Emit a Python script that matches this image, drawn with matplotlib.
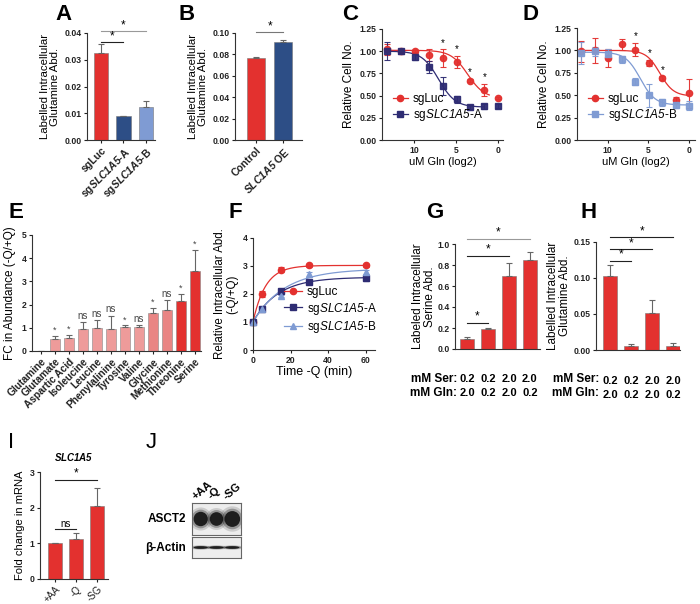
import numpy as np
import matplotlib
matplotlib.use("Agg")
import matplotlib.pyplot as plt
from matplotlib.patches import Ellipse
from matplotlib.lines import Line2D

plt.rcParams['font.family'] = ['Liberation Sans', 'DejaVu Sans']
plt.rcParams['font.weight'] = 'bold'
plt.rcParams['font.size'] = 6
plt.rcParams['mathtext.fontset'] = 'custom'
plt.rcParams['mathtext.rm'] = 'Liberation Sans:italic:normal'
plt.rcParams['mathtext.it'] = 'Liberation Sans:italic:normal'
plt.rcParams['mathtext.bf'] = 'Liberation Sans:italic:bold'
plt.rcParams['mathtext.bfit'] = 'Liberation Sans:italic:bold'
plt.rcParams['axes.linewidth'] = 0.8
plt.rcParams['axes.edgecolor'] = '#333333'

RED = '#E3312F'
PINK = '#EE9B9A'
PINK2 = '#E98584'
NAVY = '#2E2C73'
DBLUE = '#2D4E86'
LBLUE = '#7F9BD3'
ERR = '#666666'

#  A: labelled glutamine, knockouts
a_labels = ['sgLuc', 'sg$\\mathbfit{SLC1A5}$-A', 'sg$\\mathbfit{SLC1A5}$-B']
a_vals = [0.0325, 0.0088, 0.0125]
a_err = [0.0035, 0.0002, 0.0020]

#  B: labelled glutamine, overexpression
b_labels = ['Control', '$\\mathbfit{SLC1A5}$ OE']
b_vals = [0.0765, 0.0915]
b_err = [0.0012, 0.0022]

#  C, D: dose response
gln_log2 = [13.3, 11.6, 9.9, 8.3, 6.6, 4.9, 3.3, 1.6, 0]
c_luc = [1.02, 1.00, 1.00, 0.96, 0.92, 0.88, 0.67, 0.56, 0.47]
c_luc_err = [0.06, 0.03, 0.01, 0.07, 0.10, 0.07, 0.02, 0.07, 0.01]
c_ka = [1.00, 1.00, 0.94, 0.82, 0.61, 0.46, 0.37, 0.38, 0.38]
c_ka_err = [0.10, 0.03, 0.04, 0.07, 0.10, 0.04, 0.02, 0.03, 0.02]
d_luc = [0.99, 1.00, 0.92, 1.07, 1.01, 0.86, 0.69, 0.45, 0.52]
d_luc_err = [0.12, 0.14, 0.10, 0.06, 0.07, 0.03, 0.02, 0.03, 0.16]
d_kb = [0.97, 0.99, 0.96, 0.90, 0.65, 0.50, 0.42, 0.39, 0.38]
d_kb_err = [0.12, 0.05, 0.06, 0.04, 0.04, 0.13, 0.04, 0.03, 0.05]
c_stars = [6.6, 4.9, 3.3, 1.6]
d_stars = [6.6, 4.9, 3.3]
#  fitted curves: top, bottom, midpoint, slope, lowest x drawn
c_luc_fit = [1.01, 0.47, 3.6, 1.0, 1.0]
c_ka_fit = [1.00, 0.37, 7.1, 1.0, 1.6]
d_luc_fit = [1.00, 0.49, 3.6, 1.2, 0.0]
d_kb_fit = [0.98, 0.39, 6.0, 1.1, 0.0]

#  E: amino acid fold change
e_names = ['Glutamine', 'Glutamate', 'Aspartic Acid', 'Isoleucine', 'Leucine',
           'Phenylalinine', 'Tyrosine', 'Valine', 'Glycine', 'Methionine',
           'Threonine', 'Serine']
e_vals = [0.02, 0.53, 0.55, 0.93, 0.98, 0.93, 1.05, 1.05, 1.62, 1.75, 2.15, 3.45]
e_err = [0.0, 0.12, 0.13, 0.30, 0.37, 0.60, 0.05, 0.05, 0.25, 0.45, 0.32, 0.90]
e_sig = ['', '*', '*', 'ns', 'ns', 'ns', '*', 'ns', '*', 'ns', '*', '*']
e_cols = [PINK]*8 + [PINK2]*2 + [RED]*2

#  F: time course
f_time = [0, 5, 15, 30, 60]
f_luc = [1.0, 2.0, 2.87, 3.02, 3.02]
f_luc_err = [0.03, 0.12, 0.10, 0.06, 0.04]
f_ka = [1.0, 1.47, 2.10, 2.42, 2.57]
f_ka_err = [0.03, 0.05, 0.05, 0.05, 0.12]
f_kb = [1.0, 1.45, 1.93, 2.70, 2.78]
f_kb_err = [0.03, 0.04, 0.05, 0.08, 0.08]
#  association fits: start, plateau, rate
f_luc_fit = [1.0, 3.02, 0.15]
f_ka_fit = [1.0, 2.60, 0.075]
f_kb_fit = [1.0, 2.90, 0.06]

#  G, H: serine / glutamine labelling
gh_ser = ['0.2', '0.2', '2.0', '2.0']
gh_gln = ['2.0', '0.2', '2.0', '0.2']
g_vals = [0.10, 0.19, 0.70, 0.85]
g_err = [0.01, 0.01, 0.12, 0.07]
h_vals = [0.103, 0.006, 0.051, 0.006]
h_err = [0.015, 0.002, 0.018, 0.004]

#  I: qPCR
i_labels = ['+AA', '-Q', '-SG']
i_vals = [1.0, 1.13, 2.05]
i_err = [0.0, 0.15, 0.50]

#  J: blot
j_lanes = ['+AA', '-Q', '-SG']
j_asct2 = [1.0, 0.95, 1.1]
j_actin = [1.0, 1.0, 1.0]

W, H = 700, 604
fig = plt.figure(figsize=(7, 6.04), dpi=100)


def px_axes(x0, y0, x1, y1):
    return fig.add_axes([x0/W, 1 - y1/H, (x1 - x0)/W, (y1 - y0)/H])


def style(ax):
    ax.spines['top'].set_visible(False)
    ax.spines['right'].set_visible(False)
    ax.tick_params(length=2.5, width=0.8, labelsize=6.2, pad=1.5, colors='#222222')


def letter(x, y, s, weight='bold'):
    fig.text(x/W, 1 - y/H, s, fontsize=16, fontweight=weight, ha='left', va='center')


def sig(ax, x0, x1, y, txt, color='#222222', size=8.5):
    ax.plot([x0, x1], [y, y], color=color, lw=0.8, clip_on=False)
    ax.text((x0 + x1)/2, y, txt, ha='center', va='bottom', fontsize=size,
            fontweight='normal', clip_on=False)


def bars(ax, vals, err, cols, width=0.65):
    x = np.arange(len(vals))
    ax.bar(x, vals, width=width, color=cols, edgecolor='#777777', linewidth=0.4)
    ax.errorbar(x, vals, yerr=[np.zeros(len(vals)), err], fmt='none',
                ecolor=ERR, elinewidth=0.8, capsize=2.5, capthick=0.8)
    return x


def sigmoid(x, p):
    return p[1] + (p[0] - p[1]) / (1 + np.exp(-p[3]*(x - p[2])))


#  A
ax = px_axes(87, 33, 155, 140)
style(ax)
x = bars(ax, a_vals, a_err, [RED, DBLUE, LBLUE])
ax.set_xlim(-0.62, 2.4)
ax.set_ylim(0, 0.04)
ax.set_yticks([0, 0.01, 0.02, 0.03, 0.04])
ax.set_yticklabels(['0.00', '0.01', '0.02', '0.03', '0.04'])
ax.set_xticks(x)
ax.set_xticklabels(a_labels, rotation=45, ha='right', rotation_mode='anchor', fontsize=7.5)
ax.set_ylabel('Labelled Intracellular\nGlutamine Abd.', fontsize=8.2, labelpad=3, linespacing=1.0)
sig(ax, 0, 1, 0.0366, '*')
sig(ax, 0, 2, 0.0407, '*', color='#999999')
letter(55, 14, 'A')

#  B
ax = px_axes(235, 33, 302, 140)
style(ax)
x = bars(ax, b_vals, b_err, [RED, DBLUE], width=0.68)
ax.set_xlim(-0.78, 1.7)
ax.set_ylim(0, 0.10)
ax.set_yticks(np.arange(0, 0.101, 0.02))
ax.set_yticklabels(['0.00', '0.02', '0.04', '0.06', '0.08', '0.10'])
ax.set_xticks(x)
ax.set_xticklabels(b_labels, rotation=45, ha='right', rotation_mode='anchor', fontsize=7.5)
ax.set_ylabel('Labelled Intracellular\nGlutamine Abd.', fontsize=8.2, labelpad=3, linespacing=1.0)
sig(ax, 0, 1, 0.1005, '*', color='#777777')
letter(178, 14, 'B')


#  C and D
def dose_panel(box, luc, luc_err, ko, ko_err, luc_fit, ko_fit, ko_col, ko_mark, ko_name, stars, xlim):
    ax = px_axes(*box)
    style(ax)
    for fit, col in [(luc_fit, RED), (ko_fit, ko_col)]:
        xs = np.linspace(gln_log2[0], fit[4], 200)
        ax.plot(xs, sigmoid(xs, fit), color=col, lw=0.9)
    ax.errorbar(gln_log2, luc, yerr=luc_err, fmt='o', color=RED, ms=4.5,
                elinewidth=0.8, capsize=2.5, capthick=0.8, alpha=0.95)
    ax.errorbar(gln_log2, ko, yerr=ko_err, fmt=ko_mark, color=ko_col, ms=4.5,
                elinewidth=0.8, capsize=2.5, capthick=0.8, alpha=0.95)
    for s in stars:
        i = gln_log2.index(s)
        ax.text(s, luc[i] + luc_err[i] + 0.02, '*', ha='center', va='bottom',
                fontsize=7, fontweight='normal')
    ax.set_xlim(*xlim)
    ax.set_ylim(0, 1.25)
    ax.set_yticks([0, 0.25, 0.5, 0.75, 1.0, 1.25])
    ax.set_yticklabels(['0.00', '0.25', '0.50', '0.75', '1.00', '1.25'])
    ax.set_xticks([10, 5, 0])
    ax.set_xlabel('uM Gln (log2)', fontsize=8, labelpad=2)
    ax.set_ylabel('Relative Cell No.', fontsize=8.5, labelpad=3)
    h = [Line2D([], [], color=RED, marker='o', ms=4.5, lw=0.9),
         Line2D([], [], color=ko_col, marker=ko_mark, ms=4.5, lw=0.9)]
    ax.legend(h, ['sgLuc', ko_name], loc='lower left', bbox_to_anchor=(0.0, 0.06),
              frameon=False, handlelength=1.3, handletextpad=0.4, labelspacing=0.15,
              prop={'size': 8.5, 'weight': 'normal'})
    return ax


dose_panel((382, 29, 503, 140), c_luc, c_luc_err, c_ka, c_ka_err, c_luc_fit, c_ka_fit,
           NAVY, 's', 'sg$\\mathit{SLC1A5}$-A', c_stars, (13.9, -0.65))
letter(342, 14, 'C')
dose_panel((577, 28, 695, 140), d_luc, d_luc_err, d_kb, d_kb_err, d_luc_fit, d_kb_fit,
           LBLUE, 's', 'sg$\\mathit{SLC1A5}$-B', d_stars, (13.75, -0.7))
letter(523, 14, 'D')

#  E
ax = px_axes(32, 235, 201, 351)
style(ax)
x = np.arange(len(e_vals))
ax.bar(x, e_vals, width=0.68, color=e_cols, edgecolor='#888888', linewidth=0.4)
ax.errorbar(x, e_vals, yerr=[np.zeros(len(e_vals)), e_err], fmt='none',
            ecolor=ERR, elinewidth=0.8, capsize=2, capthick=0.8)
for xi, v, e, s in zip(x, e_vals, e_err, e_sig):
    if s:
        ax.text(xi, v + e + 0.05, s, ha='center', va='bottom', fontweight='normal',
                fontsize=6.5 if s == '*' else 7, color='#444444')
ax.set_xlim(-0.64, 11.43)
ax.set_ylim(0, 5)
ax.set_yticks(range(6))
ax.set_xticks(x)
ax.set_xticklabels(e_names, rotation=45, ha='right', rotation_mode='anchor', fontsize=7.3)
ax.set_ylabel('FC in Abundance (-Q/+Q)', fontsize=8.5, fontweight='normal', labelpad=4)
letter(8, 212, 'E')

#  F
ax = px_axes(253, 238, 375, 350)
style(ax)
ts = np.linspace(0, 60, 200)
for fit, col in [(f_luc_fit, RED), (f_ka_fit, NAVY), (f_kb_fit, LBLUE)]:
    ax.plot(ts, fit[0] + (fit[1] - fit[0])*(1 - np.exp(-fit[2]*ts)), color=col, lw=0.9)
for y, e, col, m in [(f_luc, f_luc_err, RED, 'o'), (f_ka, f_ka_err, NAVY, 's'),
                     (f_kb, f_kb_err, LBLUE, '^')]:
    ax.errorbar(f_time, y, yerr=e, fmt=m, color=col, ms=4.5, elinewidth=0.8,
                capsize=2.5, capthick=0.8, clip_on=False)
ax.set_xlim(0, 65)
ax.set_ylim(0, 4)
ax.set_xticks([0, 20, 40, 60])
ax.set_yticks(range(5))
ax.set_xlabel('Time -Q (min)', fontsize=9, labelpad=1)
ax.set_ylabel('Relative Intracellular Abd.\n(-Q/+Q)', fontsize=8.3, labelpad=3, linespacing=1.0)
h = [Line2D([], [], color=RED, marker='o', ms=4.5, lw=0.9),
     Line2D([], [], color=NAVY, marker='s', ms=4.5, lw=0.9),
     Line2D([], [], color=LBLUE, marker='^', ms=4.5, lw=0.9)]
ax.legend(h, ['sgLuc', 'sg$\\mathit{SLC1A5}$-A', 'sg$\\mathit{SLC1A5}$-B'], loc='lower right',
          bbox_to_anchor=(1.1, 0.04), frameon=False, handlelength=1.5, handletextpad=0.4,
          labelspacing=0.2, prop={'size': 8.5, 'weight': 'normal'})
letter(228, 212, 'F')


#  G and H
def condition_rows(ax, xlab):
    tr = ax.get_xaxis_transform()
    for xi, s, g in zip(range(4), gh_ser, gh_gln):
        ax.text(xi, -0.29, s, transform=tr, ha='center', va='center', fontsize=8)
        ax.text(xi, -0.42, g, transform=tr, ha='center', va='center', fontsize=8)
    fig.text(xlab/W, 1 - 379/H, 'mM Ser:', ha='right', va='center', fontsize=8.5)
    fig.text(xlab/W, 1 - 393/H, 'mM Gln:', ha='right', va='center', fontsize=8.5)


ax = px_axes(455, 244, 540, 349)
style(ax)
bars(ax, g_vals, g_err, RED, width=0.68)
ax.set_xlim(-0.57, 3.48)
ax.set_ylim(0, 1.0)
ax.set_yticks(np.arange(0, 1.01, 0.2))
ax.set_yticklabels(['0.0', '0.2', '0.4', '0.6', '0.8', '1.0'])
ax.set_xticks([])
ax.set_ylabel('Labeled Intracellular\nSerine Abd.', fontsize=8.5, labelpad=1, linespacing=1.0)
sig(ax, 0, 1, 0.25, '*')
sig(ax, 0, 2, 0.89, '*')
sig(ax, 0, 3, 1.05, '*', color='#999999')
condition_rows(ax, 457)
letter(426, 212, 'G')

ax = px_axes(596, 242, 680, 350)
style(ax)
bars(ax, h_vals, h_err, RED, width=0.68)
ax.set_xlim(-0.67, 3.33)
ax.set_ylim(0, 0.15)
ax.set_yticks([0, 0.05, 0.10, 0.15])
ax.set_yticklabels(['0.00', '0.05', '0.10', '0.15'])
ax.set_xticks([])
ax.set_ylabel('Labelled Intracellular\nGlutamine Abd.', fontsize=8.5, labelpad=2, linespacing=1.0)
sig(ax, 0, 1, 0.124, '*')
sig(ax, 0, 2, 0.14, '*')
sig(ax, 0, 3, 0.157, '*')
condition_rows(ax, 599)
letter(580, 212, 'H')

#  I
ax = px_axes(40, 472, 108, 579)
style(ax)
x = bars(ax, i_vals, i_err, RED, width=0.68)
ax.set_xlim(-0.71, 2.52)
ax.set_ylim(0, 3)
ax.set_yticks(range(4))
ax.set_xticks(x)
ax.set_xticklabels(i_labels, rotation=45, ha='right', rotation_mode='anchor',
                   fontsize=7, fontweight='normal')
ax.set_ylabel('Fold change in mRNA', fontsize=8, fontweight='normal', labelpad=3)
ax.set_title('$\\mathbfit{SLC1A5}$', fontsize=7, pad=8)
sig(ax, 0, 1, 1.4, 'ns', size=7)
sig(ax, 0, 2, 2.78, '*')
letter(8, 443, 'I', weight='normal')

#  J: western blot
for (y0, y1), vals, name, bh in [((503, 535), j_asct2, 'ASCT2', 0.45),
                                ((537, 558), j_actin, '\u03b2-Actin', 0.13)]:
    ax = px_axes(192, y0, 241, y1)
    ax.set_xlim(-0.55, 2.55)
    ax.set_ylim(0, 1)
    ax.set_facecolor('#EDEDED')
    ax.set_xticks([])
    ax.set_yticks([])
    for sp in ax.spines.values():
        sp.set_color('#666666')
        sp.set_linewidth(0.8)
    for xi, v in enumerate(vals):
        for k, a in [(1.6, 0.15), (1.3, 0.3), (1.0, 0.9)]:
            ax.add_patch(Ellipse((xi, 0.5), 0.9*v*k, bh*v*k, color='#111111', alpha=a, lw=0))
    ax.text(-0.12, 0.5, name, transform=ax.transAxes, ha='right', va='center', fontsize=8.5)
    if name == 'ASCT2':
        for xi, lab in enumerate(j_lanes):
            ax.text(xi - 0.25, 1.05, lab, ha='left', va='bottom', rotation=40,
                    fontsize=8, rotation_mode='anchor')
letter(146, 443, 'J', weight='normal')

plt.savefig('out.png', dpi=100)
plt.close()
